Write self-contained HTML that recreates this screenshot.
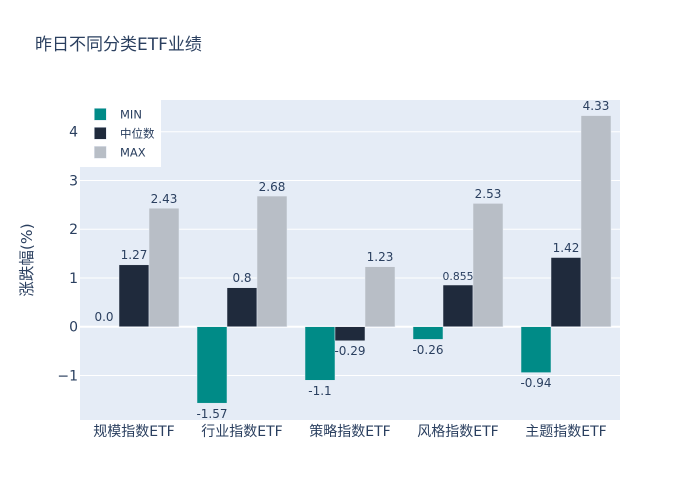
<!DOCTYPE html>
<html><head><meta charset="utf-8"><style>
html,body{margin:0;padding:0;background:#fff;}
svg{display:block;font-family:"DejaVu Sans","Noto Sans CJK SC",sans-serif;}
</style></head><body>
<svg width="700" height="500" viewBox="0 0 700 500" xmlns="http://www.w3.org/2000/svg">
<rect x="0" y="0" width="700" height="500" fill="#fff"/>
<rect x="80" y="100" width="540" height="320" fill="#E5ECF6"/>
<g stroke="#fff" stroke-width="1">
<line x1="80" x2="620" y1="131.7" y2="131.7"/>
<line x1="80" x2="620" y1="180.45" y2="180.45"/>
<line x1="80" x2="620" y1="229.2" y2="229.2"/>
<line x1="80" x2="620" y1="277.95" y2="277.95"/>
<line x1="80" x2="620" y1="375.45" y2="375.45"/>
</g>
<line x1="80" x2="620" y1="326.7" y2="326.7" stroke="#fff" stroke-width="2"/>
<g stroke="#E5ECF6" stroke-width="0.5">
<rect x="119" y="264.8" width="30" height="61.9" fill="#1f2a3c"/>
<rect x="149" y="208.2" width="30" height="118.5" fill="#b8bec6"/>
<rect x="197" y="326.7" width="30" height="76.5" fill="#008b87"/>
<rect x="227" y="287.7" width="30" height="39" fill="#1f2a3c"/>
<rect x="257" y="196.05" width="30" height="130.65" fill="#b8bec6"/>
<rect x="305" y="326.7" width="30" height="53.6" fill="#008b87"/>
<rect x="335" y="326.7" width="30" height="14.1" fill="#1f2a3c"/>
<rect x="365" y="266.7" width="30" height="60" fill="#b8bec6"/>
<rect x="413" y="326.7" width="30" height="12.7" fill="#008b87"/>
<rect x="443" y="285" width="30" height="41.7" fill="#1f2a3c"/>
<rect x="473" y="203.4" width="30" height="123.3" fill="#b8bec6"/>
<rect x="521" y="326.7" width="30" height="45.9" fill="#008b87"/>
<rect x="551" y="257.5" width="30" height="69.2" fill="#1f2a3c"/>
<rect x="581" y="115.6" width="30" height="211.1" fill="#b8bec6"/>
</g>
<g fill="#2a3f5f" font-size="12" text-anchor="middle">
<text x="104" y="321">0.0</text>
<text x="134" y="259">1.27</text>
<text x="164" y="203">2.43</text>
<text x="212" y="418">-1.57</text>
<text x="242" y="282">0.8</text>
<text x="272" y="191">2.68</text>
<text x="320" y="395">-1.1</text>
<text x="350" y="355">-0.29</text>
<text x="380" y="261">1.23</text>
<text x="428" y="354">-0.26</text>
<text x="458" y="280" font-size="10.8">0.855</text>
<text x="488" y="198">2.53</text>
<text x="536" y="387">-0.94</text>
<text x="566" y="252">1.42</text>
<text x="596" y="110">4.33</text>
</g>
<g fill="#2a3f5f" font-size="14" text-anchor="end">
<text x="78" y="136.5">4</text>
<text x="78" y="185.3">3</text>
<text x="78" y="234">2</text>
<text x="78" y="282.8">1</text>
<text x="78" y="331.5">0</text>
<text x="78" y="380.3">−1</text>
</g>
<g fill="#2a3f5f" font-size="14" text-anchor="middle">
<text x="134" y="436">规模指数ETF</text>
<text x="242" y="436">行业指数ETF</text>
<text x="350" y="436">策略指数ETF</text>
<text x="458" y="436">风格指数ETF</text>
<text x="566" y="436">主题指数ETF</text>
</g>
<text x="35" y="50" fill="#2a3f5f" font-size="17">昨日不同分类ETF业绩</text>
<text transform="translate(32,260) rotate(-90)" fill="#2a3f5f" font-size="15.5" text-anchor="middle">涨跌幅(%)</text>
<rect x="80" y="100" width="81" height="67" fill="#fff"/>
<rect x="94.3" y="108.3" width="12" height="12" fill="#008b87" stroke="#E5ECF6" stroke-width="0.5"/>
<rect x="94.3" y="127.3" width="12" height="12" fill="#1f2a3c" stroke="#E5ECF6" stroke-width="0.5"/>
<rect x="94.3" y="146.3" width="12" height="12" fill="#b8bec6" stroke="#E5ECF6" stroke-width="0.5"/>
<g fill="#2a3f5f" font-size="11.5">
<text x="120" y="118.5">MIN</text>
<text x="120" y="137.5">中位数</text>
<text x="120" y="156.5">MAX</text>
</g>
</svg>
</body></html>
